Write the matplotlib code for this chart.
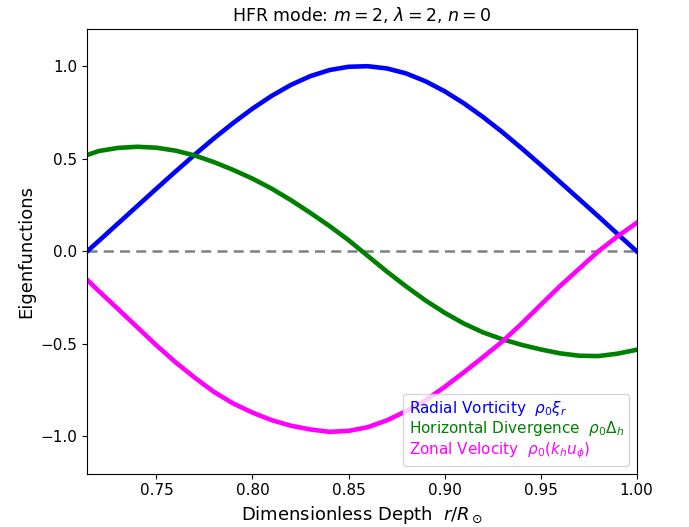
import matplotlib
matplotlib.use('Agg')
import numpy as np
import matplotlib.pyplot as plt

# radius grid (r / R_sun) and eigenfunction values
r = [0.714, 0.72, 0.73, 0.74, 0.75, 0.76, 0.77, 0.78, 0.79, 0.80,
     0.81, 0.82, 0.83, 0.84, 0.85, 0.86, 0.87, 0.88, 0.89, 0.90,
     0.91, 0.92, 0.93, 0.94, 0.95, 0.96, 0.97, 0.98, 0.99, 1.00]

radial_vort = [0.000, 0.056, 0.150, 0.244, 0.338, 0.431, 0.522, 0.610, 0.693, 0.770,
               0.839, 0.898, 0.945, 0.978, 0.996, 0.999, 0.987, 0.960, 0.918, 0.864,
               0.799, 0.725, 0.644, 0.557, 0.467, 0.375, 0.282, 0.189, 0.094, 0.000]

horiz_div = [0.520, 0.541, 0.558, 0.564, 0.559, 0.543, 0.517, 0.481, 0.439, 0.392,
             0.338, 0.276, 0.208, 0.137, 0.060, -0.025, -0.110, -0.190, -0.265, -0.332,
             -0.390, -0.438, -0.475, -0.505, -0.530, -0.551, -0.564, -0.566, -0.553, -0.532]

zonal_vel = [-0.155, -0.215, -0.312, -0.410, -0.508, -0.600, -0.683, -0.760, -0.822, -0.871,
             -0.912, -0.942, -0.962, -0.975, -0.970, -0.950, -0.913, -0.863, -0.805, -0.733,
             -0.654, -0.572, -0.488, -0.392, -0.290, -0.189, -0.095, -0.001, 0.080, 0.153]

labels = [r'Radial Vorticity  $\rho_0\xi_r$',
          r'Horizontal Divergence  $\rho_0\Delta_h$',
          r'Zonal Velocity  $\rho_0(k_h u_\phi)$']
colors = ['blue', 'green', 'magenta']

fig = plt.figure(figsize=(6.89, 5.27), dpi=100)
ax = fig.add_axes([0.1267, 0.1015, 0.7973, 0.8435])

ax.axhline(0, color='gray', ls='--', lw=1.8, dashes=(4, 2.5), zorder=1)
for y, lab, c in zip([radial_vort, horiz_div, zonal_vel], labels, colors):
    ax.plot(r, y, color=c, lw=3.3, label=lab)

ax.set_xlim(0.714, 1.0)
ax.set_ylim(-1.2, 1.2)
ax.set_xticks([0.75, 0.80, 0.85, 0.90, 0.95, 1.00])
ax.set_yticks([-1.0, -0.5, 0.0, 0.5, 1.0])
ax.tick_params(labelsize=11)
ax.set_xlabel(r'Dimensionless Depth  $r/R_\odot$', fontsize=13)
ax.set_ylabel('Eigenfunctions', fontsize=13)
ax.set_title(r'HFR mode: $m=2$, $\lambda=2$, $n=0$', fontsize=12.5)

leg = ax.legend(loc='lower right', fontsize=11, handlelength=0, handletextpad=0,
                borderpad=0.35, labelspacing=0.1)
for txt, c in zip(leg.get_texts(), colors):
    txt.set_color(c)
for h in leg.legend_handles:
    h.set_visible(False)

fig.savefig('out.png', dpi=100)
